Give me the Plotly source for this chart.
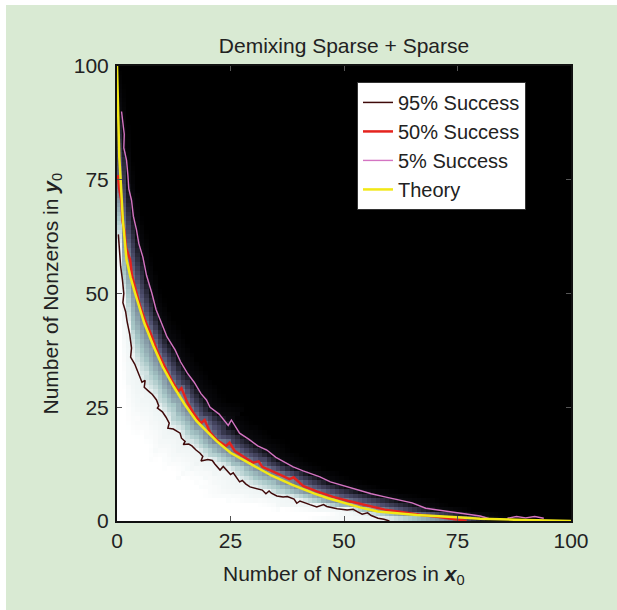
import numpy as np
import plotly.graph_objects as go

# ---------------- data ----------------
tick_vals = [0, 25, 50, 75, 100]
tick_text = ["0", "25", "50", "75", "100"]

theory_x = [0, 0.2, 0.5, 0.8, 1.3, 2.1, 3, 4, 5, 6, 8, 10, 12.5, 15, 17.5, 19.7, 22, 25,
            29.5, 34, 38.5, 43.5, 46.5, 50, 53.5, 57.4, 66, 75, 80, 90, 100]
theory_y = [100, 90, 80, 75, 66, 57.4, 53.5, 50, 46.5, 43.5, 38.5, 34, 29.5, 25.5, 22, 19.7, 17.5, 15,
            12.5, 10, 8, 6, 5, 4, 3, 2.1, 1.3, 0.8, 0.5, 0.2, 0]

s95_x = [0.3, 0.6, 0.8, 1.2, 1.5, 1.3, 1.9, 2.2, 2.8, 3.2, 3.0, 3.9, 4.5, 5.0, 5.5, 6.2, 6.0, 7.0,
         7.8, 8.7, 9.2, 8.9, 10.0, 10.8, 11.5, 11.2, 12.4, 13.9, 14.2, 15.0, 14.6, 15.8, 16.5, 17.4,
         18.3, 18.9, 18.5, 20.0, 21.0, 21.5, 22.7, 23.4, 24.0, 25.0, 25.6, 27.0, 27.6, 28.4, 29.3,
         30.5, 32.0, 32.8, 33.5, 34.0, 35.2, 36.6, 37.5, 39.0, 39.6, 40.3, 41.0, 42.5, 44.0, 45.5,
         46.2, 47.0, 48.5, 50.7, 52.0, 53.0, 54.0, 55.2, 56.0, 57.5, 58.8, 60.0]
s95_y = [63, 59, 56, 53, 50, 48, 46, 44, 41, 38, 36, 34.5, 33, 31.5, 30.5, 30.9, 29.4, 28.5,
         27.8, 26.6, 25.3, 24.8, 24, 22.8, 21.5, 20.4, 20.2, 19.3, 18.2, 17.5, 16.8, 16.9, 16.5, 15.6,
         14.9, 14.2, 13.2, 13.5, 13.3, 12.6, 11.2, 12.0, 11.4, 10.2, 10.6, 8.6, 8.9, 8.1, 7.5,
         7.2, 6.8, 6.0, 6.6, 6.1, 5.5, 5.3, 5.4, 4.8, 3.9, 4.4, 4.1, 3.6, 3.1, 3.6,
         3.2, 3.0, 2.7, 2.4, 2.6, 2.0, 1.5, 1.8, 1.2, 0.6, 0.4, 0]

s50_x = [0.2, 0.5, 1.0, 1.2, 1.6, 2.0, 2.9, 3.3, 4.2, 5, 6.2, 7.5, 9, 10.3, 12, 13.5, 14.2, 15.5,
         17, 18.5, 19.3, 20.5, 22, 24, 24.8, 26, 28, 30, 31.2, 32, 35, 38, 38.9, 41, 44, 47.6,
         51, 55, 59, 63, 67, 71, 75, 77]
s50_y = [76, 73, 70, 66, 64, 60, 57.4, 54, 50.5, 47.5, 44, 41, 37, 34.5, 31, 28.5, 29.2, 26,
         23.5, 21.5, 22.2, 19.5, 17.8, 16.5, 17.2, 15.3, 14, 12.8, 13.1, 11.9, 10.6, 9.2, 9.6, 7.7, 6.5, 5.3,
         4.4, 3.4, 2.5, 1.9, 1.3, 0.9, 0.4, 0]

s5_x = [1.0, 1.25, 1.6, 1.5, 2.1, 2.4, 2.6, 3.2, 3.6, 4.3, 4.8, 5.7, 6.5, 7.7, 8.6, 9.8, 11, 12.8,
        14, 15.5, 17, 18.5, 19.7, 20.5, 22.5, 24.5, 25.2, 27, 29, 31, 33, 35, 37, 38.8, 41, 43,
        44.7, 47, 50.6, 53, 56, 59, 62.3, 65, 68, 71, 74, 77, 80, 82]
s5_y = [90, 88, 85, 82, 79.3, 76, 73, 70.5, 67, 64, 61, 58, 54, 50, 46.5, 43.5, 40.5, 37.6,
        35, 32.5, 30.5, 28, 26.6, 25, 23.5, 21, 22.2, 19.3, 18, 16.5, 15.6, 14, 12.8, 11.9, 11, 10.3,
        9.7, 8.6, 7.5, 6.8, 6, 5.3, 4.6, 4.0, 2.8, 2.4, 2.0, 1.6, 1.1, 0.5]

s5_tail_x = [86, 88, 90, 92, 94]
s5_tail_y = [0.6, 1.0, 0.7, 1.0, 0.6]

# ---------------- success-probability field built from the read contours ----------------
def ray_radius(cx, cy, ang):
    cx = np.asarray(cx, float)
    cy = np.asarray(cy, float)
    a = np.arctan2(cy, cx)
    r = np.hypot(cx, cy)
    o = np.argsort(a)
    return np.interp(ang, a[o], r[o])

grid = np.arange(0.5, 100, 1.0)
GX, GY = np.meshgrid(grid, grid)
ang = np.arctan2(GY, GX)
rad = np.hypot(GX, GY)
r95 = ray_radius(s95_x, s95_y, ang)
r50 = np.maximum(ray_radius(s50_x, s50_y, ang), r95 + 0.5)
r5 = np.maximum(ray_radius(s5_x, s5_y, ang), r50 + 0.5)

z = np.where(
    rad <= r95,
    0.95 + 0.05 * np.clip((r95 - rad) / (r50 - r95 + 2), 0, 1),
    np.where(
        rad <= r50,
        0.95 - 0.45 * (rad - r95) / (r50 - r95),
        np.where(
            rad <= r5,
            0.5 - 0.45 * (rad - r50) / (r5 - r50),
            0.05 * np.clip(1 - (rad - r5) / (0.5 * (r5 - r50) + 2), 0, 1),
        ),
    ),
)

bone = [[0.0, "rgb(0,0,0)"], [0.375, "rgb(81,81,113)"],
        [0.75, "rgb(166,198,198)"], [1.0, "rgb(255,255,255)"]]

FONT = "Liberation Sans, Arial, Helvetica, sans-serif"
TXT = "#222222"

fig = go.Figure()
fig.add_trace(go.Heatmap(x=grid, y=grid, z=z, zmin=0, zmax=1, colorscale=bone,
                         showscale=False, hoverinfo="skip", showlegend=False))
fig.add_trace(go.Scatter(x=s95_x, y=s95_y, mode="lines", name="95% Success",
                         line=dict(color="#3f0a0a", width=1.5)))
fig.add_trace(go.Scatter(x=s50_x, y=s50_y, mode="lines", name="50% Success",
                         line=dict(color="#e5231e", width=2.5)))
fig.add_trace(go.Scatter(x=s5_x, y=s5_y, mode="lines", name="5% Success",
                         line=dict(color="#d474c2", width=1.4)))
fig.add_trace(go.Scatter(x=s5_tail_x, y=s5_tail_y, mode="lines", showlegend=False,
                         line=dict(color="#d474c2", width=1.4)))
fig.add_trace(go.Scatter(x=theory_x, y=theory_y, mode="lines", name="Theory",
                         line=dict(color="#f2e816", width=2.5)))

axis_common = dict(range=[0, 100], tickvals=tick_vals, ticktext=tick_text, ticks="inside",
                   ticklen=5, tickcolor="#555555", showgrid=False, zeroline=False,
                   showline=True, linecolor="#111111", linewidth=2, mirror="ticks",
                   tickfont=dict(family=FONT, size=21, color=TXT))

# plot area in page pixels: x 117..571, y 66..521
fig.update_layout(
    width=617, height=610,
    margin=dict(l=117, r=46, t=66, b=89),
    paper_bgcolor="white", plot_bgcolor="black",
    xaxis=dict(**axis_common),
    yaxis=dict(**axis_common, ticklabelstandoff=2),
    title=dict(text="Demixing Sparse + Sparse", x=0.5, xref="paper", xanchor="center",
               y=(610 - 46) / 610, yanchor="middle", yref="container",
               font=dict(family=FONT, size=21, color=TXT)),
    legend=dict(x=0.5286, y=0.965, xanchor="left", yanchor="top", bgcolor="white",
                bordercolor="#333333", borderwidth=1, entrywidth=150, entrywidthmode="pixels",
                font=dict(family=FONT, size=20, color=TXT), tracegroupgap=0),
    shapes=[dict(type="rect", xref="paper", yref="paper",
                 x0=(6 - 117) / 454, x1=(640 - 117) / 454,
                 y0=(521 - 640) / 455, y1=(521 - 5) / 455,
                 fillcolor="#d9ead3", line=dict(width=0), layer="below")],
    annotations=[
        dict(text="Number of Nonzeros in <b><i>x</i></b><sub>0</sub>", xref="paper", yref="paper",
             x=0.5, y=(521 - 575) / 455, xanchor="center", yanchor="middle", showarrow=False,
             font=dict(family=FONT, size=21, color=TXT)),
        dict(text="Number of Nonzeros in <b><i>y</i></b><sub>0</sub>", xref="paper", yref="paper",
             x=(51 - 117) / 454, y=0.5, xanchor="center", yanchor="middle", showarrow=False,
             textangle=-90, font=dict(family=FONT, size=21, color=TXT)),
    ],
)

fig.write_html("out.html", config={"displayModeBar": False},
               post_script="document.body.style.margin='0';document.body.style.overflow='hidden';")
